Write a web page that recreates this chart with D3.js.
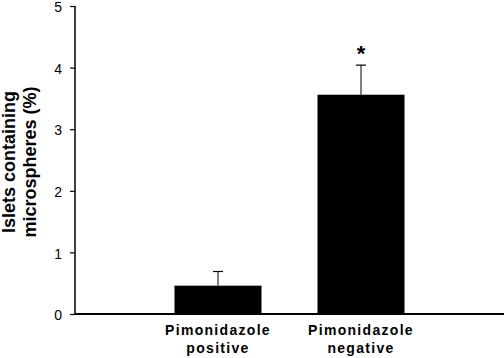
<!DOCTYPE html>
<html>
<head>
<meta charset="utf-8">
<script src="https://cdn.jsdelivr.net/npm/d3@7"></script>
<style>
  body { margin: 0; background: #fff; }
  svg { display: block; font-family: Arial, "Liberation Sans", sans-serif; }
</style>
</head>
<body>
<div id="chart"></div>
<script>
var groups = ["Pimonidazole positive", "Pimonidazole negative"];
var labelLines = [["Pimonidazole", "positive"], ["Pimonidazole", "negative"]];
var means = [0.46, 3.56];
var errors = [0.23, 0.48];
var marks = ["", "*"];
var yTicks = [0, 1, 2, 3, 4, 5];

var width = 504, height = 358;
var plotL = 75, plotT = 6, plotB = 314, plotR = 504;

var svg = d3.select("#chart").append("svg")
  .attr("width", width)
  .attr("height", height);

var x = d3.scalePoint().domain(groups).range([plotL, plotR]).padding(1);
var y = d3.scaleLinear().domain([0, 5]).range([plotB, plotT]);
var barW = 87;

// bars
svg.selectAll(".bar").data(groups).enter().append("rect")
  .attr("class", "bar")
  .attr("x", d => x(d) - barW / 2)
  .attr("y", (d, i) => y(means[i]))
  .attr("width", barW)
  .attr("height", (d, i) => y(0) - y(means[i]))
  .attr("fill", "#000");

// error bars (upper only)
var eb = svg.selectAll(".err").data(groups).enter().append("g").attr("class", "err");
eb.append("line")
  .attr("x1", d => x(d)).attr("x2", d => x(d))
  .attr("y1", (d, i) => y(means[i]))
  .attr("y2", (d, i) => y(means[i] + errors[i]))
  .attr("stroke", "#000").attr("stroke-width", 1);
eb.append("line")
  .attr("x1", d => x(d) - 5).attr("x2", d => x(d) + 5)
  .attr("y1", (d, i) => y(means[i] + errors[i]))
  .attr("y2", (d, i) => y(means[i] + errors[i]))
  .attr("stroke", "#000").attr("stroke-width", 1.2);

// significance mark
svg.selectAll(".sig").data(groups).enter().append("text")
  .attr("x", d => x(d))
  .attr("y", (d, i) => y(means[i] + errors[i]) - 4)
  .attr("text-anchor", "middle")
  .style("font-size", "22px")
  .style("font-weight", "bold")
  .text((d, i) => marks[i]);

// y axis
var yAxis = d3.axisLeft(y).tickValues(yTicks).tickSize(5).tickPadding(8).tickFormat(d3.format("d"));
var ga = svg.append("g").attr("transform", "translate(" + plotL + ",0)").call(yAxis);
ga.select(".domain").attr("stroke-width", 1.5).attr("d", "M0," + plotT + "V" + plotB);
ga.selectAll(".tick line").attr("stroke-width", 1.2);
ga.selectAll(".tick text").attr("dy", "0.4em")
  .style("font-size", "14px").style("font-family", "Arial, 'Liberation Sans', sans-serif").attr("fill", "#000");

// x axis line
svg.append("line")
  .attr("x1", plotL).attr("x2", plotR)
  .attr("y1", y(0)).attr("y2", y(0))
  .attr("stroke", "#000").attr("stroke-width", 2);

// category labels
var lab = svg.selectAll(".xlab").data(groups).enter().append("text")
  .attr("class", "xlab")
  .attr("text-anchor", "middle")
  .style("font-size", "14px")
  .style("font-weight", "bold")
  .style("letter-spacing", "1.3px");
lab.selectAll("tspan").data((d, i) => labelLines[i].map(t => ({t: t, g: d}))).enter().append("tspan")
  .attr("x", d => x(d.g))
  .attr("y", (d, j) => 335 + j * 18)
  .text(d => d.t);

// y title
var yt = svg.append("text")
  .attr("transform", "translate(0," + 162 + ") rotate(-90)")
  .attr("text-anchor", "middle")
  .style("font-size", "18px")
  .style("font-weight", "bold");
yt.append("tspan").attr("x", 0).attr("y", 15).text("Islets containing");
yt.append("tspan").attr("x", 0).attr("y", 36).text("microspheres (%)");
</script>
</body>
</html>
